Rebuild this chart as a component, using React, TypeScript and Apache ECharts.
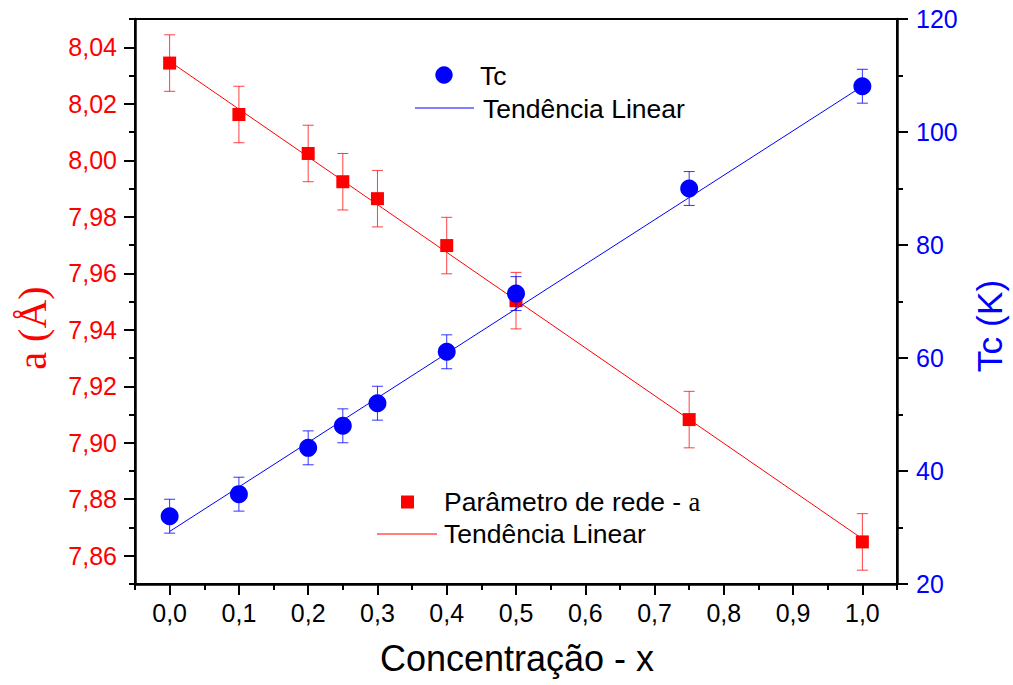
import React, { useEffect, useRef } from "react";
import * as echarts from "echarts";

const concentrations = [0, 0.1, 0.2, 0.25, 0.3, 0.4, 0.5, 0.75, 1.0];
const latticeA = [8.0344, 8.0162, 8.0024, 7.9924, 7.9864, 7.9698, 7.9503, 7.9082, 7.8649];
const latticeErr = [0.01, 0.01, 0.01, 0.01, 0.01, 0.01, 0.01, 0.01, 0.01];
const tcValues = [32.0, 35.9, 44.1, 48.0, 52.0, 61.1, 71.4, 90.0, 108.1];
const tcErr = [3, 3, 3, 3, 3, 3, 3, 3, 3];
const latticeTrend = [[0, 8.035], [1, 7.866]];
const tcTrend = [[0, 29.3], [1, 108.1]];

const xMajorTicks = [0, 0.1, 0.2, 0.3, 0.4, 0.5, 0.6, 0.7, 0.8, 0.9, 1.0];
const xMinorTicks = [-0.05, 0.05, 0.15, 0.25, 0.35, 0.45, 0.55, 0.65, 0.75, 0.85, 0.95, 1.05];
const aMajorTicks = [7.86, 7.88, 7.9, 7.92, 7.94, 7.96, 7.98, 8.0, 8.02, 8.04];
const aMinorTicks = [7.85, 7.87, 7.89, 7.91, 7.93, 7.95, 7.97, 7.99, 8.01, 8.03, 8.05];

const SANS = "'Liberation Sans', Arial, sans-serif";
const SERIF = "'Liberation Serif', 'Times New Roman', serif";

function errorBarItem(color: string) {
  return (params: any, api: any) => {
    const x = api.value(0);
    const lo = api.value(1);
    const hi = api.value(2);
    const pLo = api.coord([x, lo]);
    const pHi = api.coord([x, hi]);
    const hw = 5.5;
    const style = { stroke: color, lineWidth: 1 };
    return {
      type: "group",
      children: [
        { type: "line", shape: { x1: pLo[0], y1: pLo[1], x2: pHi[0], y2: pHi[1] }, style },
        { type: "line", shape: { x1: pLo[0] - hw, y1: pLo[1], x2: pLo[0] + hw, y2: pLo[1] }, style },
        { type: "line", shape: { x1: pHi[0] - hw, y1: pHi[1], x2: pHi[0] + hw, y2: pHi[1] }, style },
      ],
    };
  };
}

export default function App() {
  const ref = useRef<HTMLDivElement>(null);
  useEffect(() => {
    if (!ref.current) return;
    const chart = echarts.init(ref.current, null, { renderer: "svg" });
    const fmt = (d: number) => (v: number) => v.toFixed(d).replace(".", ",");
    const aErrData = concentrations.map((x, i) => [x, latticeA[i] - latticeErr[i], latticeA[i] + latticeErr[i]]);
    const tcErrData = concentrations.map((x, i) => [x, tcValues[i] - tcErr[i], tcValues[i] + tcErr[i]]);
    const tickLine = { color: "#000", width: 2 };
    const LEG = 26.5;
    const option: any = {
      animation: false,
      backgroundColor: "#ffffff",
      grid: {
        left: 135,
        right: 116,
        top: 19,
        bottom: 101,
        containLabel: false,
        outerBoundsMode: "none",
        show: true,
        borderColor: "#000",
        borderWidth: 2,
      },
      xAxis: [
        {
          type: "value",
          min: -0.05,
          max: 1.05,
          position: "bottom",
          axisLine: { show: true, onZero: false, lineStyle: { color: "#000", width: 2.5 } },
          axisTick: { show: true, customValues: xMajorTicks, length: 11, lineStyle: tickLine },
          axisLabel: {
            customValues: xMajorTicks,
            formatter: fmt(1),
            color: "#000",
            fontSize: 25,
            fontFamily: SANS,
            margin: 16,
          },
          splitLine: { show: false },
        },
        {
          type: "value",
          min: -0.05,
          max: 1.05,
          position: "bottom",
          axisLine: { show: false, onZero: false },
          axisTick: { show: true, customValues: xMinorTicks, length: 6, lineStyle: tickLine },
          axisLabel: { show: false },
          splitLine: { show: false },
        },
      ],
      yAxis: [
        {
          type: "value",
          min: 7.85,
          max: 8.05,
          position: "left",
          axisLine: { show: true, onZero: false, lineStyle: { color: "#000", width: 2.5 } },
          axisTick: { show: true, customValues: aMajorTicks, length: 11, lineStyle: tickLine },
          axisLabel: {
            customValues: aMajorTicks,
            formatter: fmt(2),
            color: "#ff0000",
            fontSize: 25,
            fontFamily: SANS,
            margin: 18,
          },
          splitLine: { show: false },
        },
        {
          type: "value",
          min: 7.85,
          max: 8.05,
          position: "left",
          axisLine: { show: false, onZero: false },
          axisTick: { show: true, customValues: aMinorTicks, length: 6, lineStyle: tickLine },
          axisLabel: { show: false },
          splitLine: { show: false },
        },
        {
          type: "value",
          min: 20,
          max: 120,
          interval: 20,
          position: "right",
          axisLine: { show: true, onZero: false, lineStyle: { color: "#000", width: 2.5 } },
          axisTick: { show: true, length: 11, lineStyle: tickLine },
          minorTick: { show: true, splitNumber: 2, length: 6, lineStyle: tickLine },
          axisLabel: {
            formatter: (v: number) => String(v),
            color: "#0000ff",
            fontSize: 25,
            fontFamily: SANS,
            margin: 19,
          },
          splitLine: { show: false },
          minorSplitLine: { show: false },
        },
      ],
      series: [
        {
          name: "Tendência Linear (a)",
          type: "line",
          xAxisIndex: 0,
          yAxisIndex: 0,
          data: latticeTrend,
          symbol: "none",
          lineStyle: { color: "#ff0000", width: 1 },
          z: 2,
        },
        {
          name: "a error",
          type: "custom",
          xAxisIndex: 0,
          yAxisIndex: 0,
          renderItem: errorBarItem("rgba(255,0,0,0.75)"),
          data: aErrData,
          encode: { x: 0, y: [1, 2] },
          z: 3,
        },
        {
          name: "Parâmetro de rede - a",
          type: "scatter",
          xAxisIndex: 0,
          yAxisIndex: 0,
          data: concentrations.map((x, i) => [x, latticeA[i]]),
          symbol: "rect",
          symbolSize: 13,
          itemStyle: { color: "#ff0000", opacity: 1 },
          z: 4,
        },
        {
          name: "Tendência Linear (Tc)",
          type: "line",
          xAxisIndex: 0,
          yAxisIndex: 2,
          data: tcTrend,
          symbol: "none",
          lineStyle: { color: "#0000ff", width: 1 },
          z: 5,
        },
        {
          name: "Tc error",
          type: "custom",
          xAxisIndex: 0,
          yAxisIndex: 2,
          renderItem: errorBarItem("rgba(0,0,255,0.8)"),
          data: tcErrData,
          encode: { x: 0, y: [1, 2] },
          z: 6,
        },
        {
          name: "Tc",
          type: "scatter",
          xAxisIndex: 0,
          yAxisIndex: 2,
          data: concentrations.map((x, i) => [x, tcValues[i]]),
          symbol: "circle",
          symbolSize: 18,
          itemStyle: { color: "#0000ff", opacity: 1 },
          z: 7,
        },
      ],
      graphic: [
        {
          type: "text",
          x: 517,
          y: 658,
          style: { text: "Concentração - x", fontSize: 36, fontFamily: SANS, fill: "#000", align: "center", verticalAlign: "middle" },
        },
        {
          type: "text",
          x: 32,
          y: 328,
          rotation: Math.PI / 2,
          style: { text: "a (Å)", fontSize: 40, fontFamily: SERIF, fill: "#ff0000", align: "center", verticalAlign: "middle" },
        },
        {
          type: "text",
          x: 990,
          y: 326,
          rotation: Math.PI / 2,
          style: { text: "Tc (K)", fontSize: 35.5, fontFamily: SANS, fill: "#0000ff", align: "center", verticalAlign: "middle" },
        },
        { type: "circle", shape: { cx: 444, cy: 75, r: 8.7 }, style: { fill: "#0000ff" } },
        { type: "text", x: 480, y: 76, style: { text: "Tc", fontSize: LEG, fontFamily: SANS, fill: "#000", verticalAlign: "middle" } },
        { type: "line", shape: { x1: 415, y1: 108, x2: 474, y2: 108 }, style: { stroke: "#0000ff", lineWidth: 1 } },
        { type: "text", x: 483, y: 109, style: { text: "Tendência Linear", fontSize: LEG, fontFamily: SANS, fill: "#000", verticalAlign: "middle" } },
        { type: "rect", shape: { x: 401, y: 495.5, width: 13, height: 13 }, style: { fill: "#ff0000" } },
        {
          type: "text",
          x: 444,
          y: 502,
          style: {
            text: "{s|Parâmetro de rede - }{r|a}",
            verticalAlign: "middle",
            rich: {
              s: { fontSize: LEG, fontFamily: SANS, fill: "#000", color: "#000" },
              r: { fontSize: LEG, fontFamily: SERIF, fill: "#000", color: "#000" },
            },
          },
        },
        { type: "line", shape: { x1: 377, y1: 534, x2: 437, y2: 534 }, style: { stroke: "#ff0000", lineWidth: 1 } },
        { type: "text", x: 444, y: 534, style: { text: "Tendência Linear", fontSize: LEG, fontFamily: SANS, fill: "#000", verticalAlign: "middle" } },
      ],
    };
    chart.setOption(option);
    return () => chart.dispose();
  }, []);
  return (
    <div
      ref={ref}
      style={{ position: "fixed", left: 0, top: 0, width: 1013, height: 685, background: "#fff" }}
    />
  );
}
